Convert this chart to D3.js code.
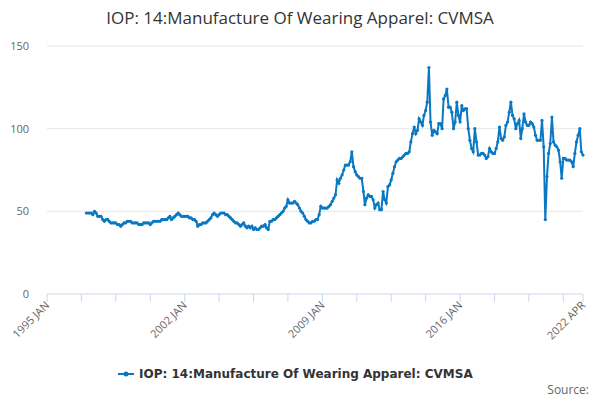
<!DOCTYPE html>
<html lang="en">
<head>
<meta charset="utf-8">
<script src="https://d3js.org/d3.v7.min.js"></script>
<style>
  body { margin: 0; font-family: "Open Sans", "DejaVu Sans", sans-serif; }
</style>
</head>
<body>
<div id="chart"></div>
<script>
// monthly values, 1997 JAN .. 2022 APR
var seriesName = "IOP: 14:Manufacture Of Wearing Apparel: CVMSA";
var startYear = 1997;
var values = [
  49,49,49,49,48,50,49,47,47,47,45,44,
  45,45,44,43,43,43,43,42,42,41,42,43,
  43,44,44,44,43,43,43,43,42,42,42,43,
  43,43,43,42,43,44,44,44,44,44,45,45,
  45,45,46,47,45,46,47,48,49,48,47,47,
  47,47,47,46,46,45,45,44,41,42,42,43,
  43,43,44,45,46,48,49,48,47,48,49,49,
  49,48,48,47,46,45,44,43,43,42,41,42,
  43,41,40,41,40,41,39,40,39,39,40,41,
  41,42,40,39,44,44,45,45,46,47,48,49,
  50,52,53,57,55,55,55,56,55,54,52,50,
  49,47,45,44,43,43,44,44,45,45,48,53,
  52,52,52,52,53,54,56,58,60,69,67,70,
  72,75,78,78,78,80,86,77,74,72,71,70,
  70,62,54,58,60,59,59,57,52,54,55,51,
  51,62,57,55,65,66,69,73,77,80,81,82,
  82,83,84,85,85,86,92,97,101,97,99,106,
  104,102,108,111,116,137,104,96,99,98,97,103,
  103,100,118,120,124,113,113,110,100,104,116,108,
  104,114,111,112,112,100,93,88,86,100,92,84,
  84,85,85,84,82,83,88,86,85,85,88,92,
  101,94,93,95,102,104,110,116,108,106,100,103,
  105,94,100,109,104,102,102,104,103,101,96,93,
  93,93,105,89,45,71,85,91,107,92,90,89,
  87,80,70,82,82,81,81,81,80,77,85,92,
  96,100,86,84
];
var yTicks = [0, 50, 100, 150];
var xLabels = ["1995 JAN", "2002 JAN", "2009 JAN", "2016 JAN", "2022 APR"];

var width = 600, height = 400;
var margin = {top: 46, right: 17, bottom: 106, left: 47};

var svg = d3.select("#chart").append("svg")
  .attr("width", width).attr("height", height);

var parse = d3.timeParse("%Y %b");
var data = values.map(function(v, i) {
  return {date: new Date(startYear + Math.floor(i / 12), i % 12, 1), value: v};
});

var x = d3.scaleTime()
  .domain([new Date(1995, 0, 1), new Date(2022, 3, 1)])
  .range([margin.left, width - margin.right]);
var y = d3.scaleLinear()
  .domain([0, 150])
  .range([height - margin.bottom, margin.top]);

// title
svg.append("text")
  .attr("x", width / 2).attr("y", 24)
  .attr("text-anchor", "middle")
  .style("font-size", "17px").style("fill", "#333")
  .text("IOP: 14:Manufacture Of Wearing Apparel: CVMSA");

// grid + y labels
svg.append("g").selectAll("line").data(yTicks.slice(1)).enter().append("line")
  .attr("x1", margin.left).attr("x2", width - margin.right)
  .attr("y1", function(d) { return y(d); }).attr("y2", function(d) { return y(d); })
  .attr("stroke", "#e6e6e6");
svg.append("g").selectAll("text").data(yTicks).enter().append("text")
  .attr("x", 29).attr("y", function(d) { return y(d) + 4; })
  .attr("text-anchor", "end")
  .style("font-size", "11px").style("fill", "#666")
  .text(function(d) { return d; });

// x axis: ticks every 21 months
var ticks = [];
for (var m = 0; ; m += 21) {
  var t = new Date(1995, m, 1);
  if (t > x.domain()[1]) break;
  ticks.push(t);
}
ticks.push(x.domain()[1]);
var xa = svg.append("g");
xa.append("line")
  .attr("x1", margin.left).attr("x2", width - margin.right)
  .attr("y1", y(0)).attr("y2", y(0)).attr("stroke", "#ccd6eb");
xa.selectAll("line.tk").data(ticks).enter().append("line").attr("class", "tk")
  .attr("x1", function(d) { return x(d); }).attr("x2", function(d) { return x(d); })
  .attr("y1", y(0)).attr("y2", y(0) + 8).attr("stroke", "#ccd6eb");
var labelDates = xLabels.map(function(s) { return parse(s.replace("JAN", "Jan").replace("APR", "Apr")); });
xa.selectAll("text").data(xLabels).enter().append("text")
  .attr("text-anchor", "end")
  .attr("transform", function(d, i) {
    return "translate(" + (x(labelDates[i]) + 3) + "," + (y(0) + 12) + ") rotate(-45)";
  })
  .style("font-size", "11px").style("fill", "#666")
  .text(function(d) { return d; });

// line
var color = "#0a78c2";
svg.append("path").datum(data)
  .attr("fill", "none").attr("stroke", color).attr("stroke-width", 2)
  .attr("d", d3.line().x(function(d) { return x(d.date); }).y(function(d) { return y(d.value); }));
svg.append("g").selectAll("circle").data(data).enter().append("circle")
  .attr("cx", function(d) { return x(d.date); })
  .attr("cy", function(d) { return y(d.value); })
  .attr("r", 1.6).attr("fill", color);

// legend
var lg = svg.append("g").attr("transform", "translate(118,374)");
lg.append("line").attr("x1", 0).attr("x2", 16).attr("stroke", color).attr("stroke-width", 2);
lg.append("circle").attr("cx", 8).attr("r", 2.5).attr("fill", color);
lg.append("text").attr("x", 21).attr("y", 4)
  .style("font-family", "'DejaVu Sans', sans-serif")
  .style("font-size", "12px").style("font-weight", "bold").style("fill", "#333")
  .text(seriesName);

svg.append("text")
  .attr("x", 589).attr("y", 394).attr("text-anchor", "end")
  .style("font-size", "12px").style("fill", "#666")
  .text("Source:");
</script>
</body>
</html>
